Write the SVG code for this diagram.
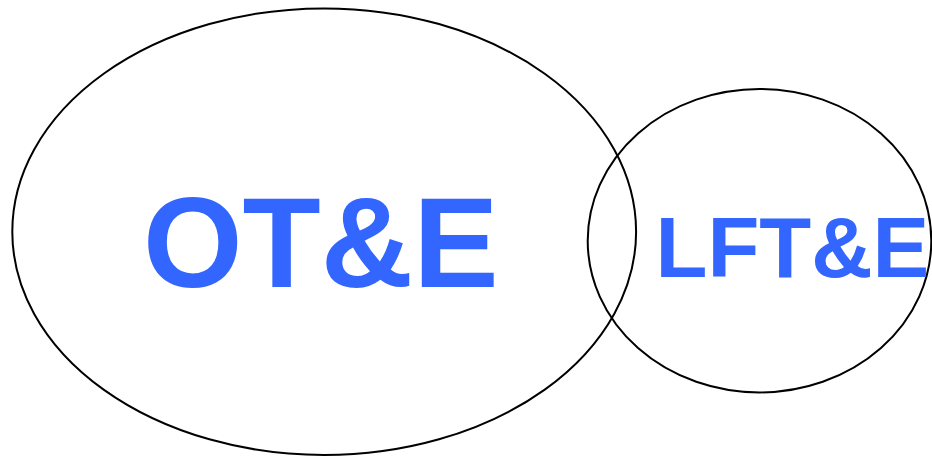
<svg xmlns="http://www.w3.org/2000/svg" width="932" height="457" viewBox="0 0 932 457">
<style>
.ring{fill:none;stroke:#000;stroke-width:2}
.lbl{font-family:"Liberation Sans",Arial,sans-serif;font-weight:bold;fill:#3366ff;text-anchor:middle}
</style>
<rect width="932" height="457" fill="#fff"/>
<g id="ote">
<ellipse class="ring" cx="324.2" cy="231.7" rx="311.9" ry="223.3"/>
<text class="lbl" x="320.8" y="287.3" font-size="128">OT&amp;E</text>
</g>
<g id="lfte">
<ellipse class="ring" cx="759.5" cy="240.7" rx="171.8" ry="151.7"/>
<text class="lbl" x="792.4" y="277.3" font-size="85">LFT&amp;E</text>
</g>
<g id="connectors"/>
</svg>
